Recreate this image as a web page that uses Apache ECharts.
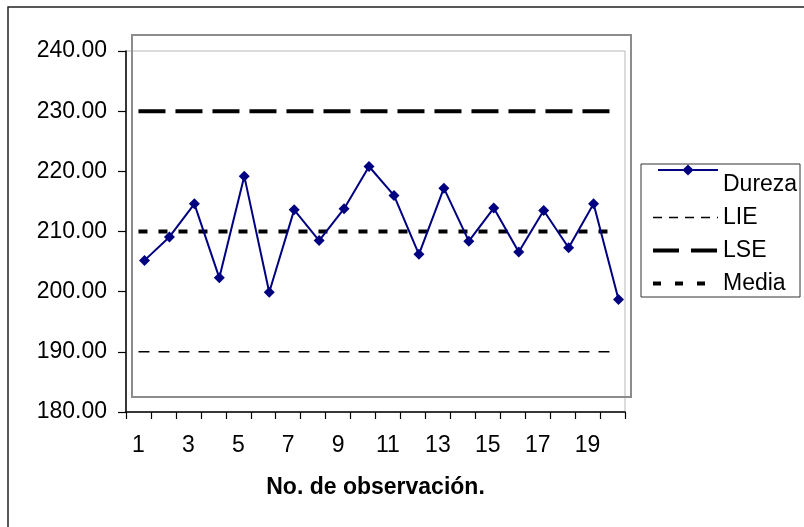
<!DOCTYPE html>
<html>
<head>
<meta charset="utf-8">
<script src="https://cdn.jsdelivr.net/npm/echarts@6/dist/echarts.min.js"></script>
<style>
html,body{margin:0;padding:0;background:#fff;}
#c{width:804px;height:527px;}
</style>
</head>
<body>
<div id="c"></div>
<script>
var categories = ['1','2','3','4','5','6','7','8','9','10','11','12','13','14','15','16','17','18','19','20'];
var dureza = [205.2, 209.1, 214.6, 202.3, 219.2, 199.9, 213.6, 208.5, 213.8, 220.8, 216.0, 206.2, 217.2, 208.4, 213.9, 206.6, 213.5, 207.3, 214.6, 198.7];
var lie   = [190,190,190,190,190,190,190,190,190,190,190,190,190,190,190,190,190,190,190,190];
var lse   = [230,230,230,230,230,230,230,230,230,230,230,230,230,230,230,230,230,230,230,230];
var media = [210,210,210,210,210,210,210,210,210,210,210,210,210,210,210,210,210,210,210,210];
var yMin = 180, yMax = 240, yStep = 10;
var xTitle = 'No. de observación.';

var FONT = "'Liberation Sans', Arial, sans-serif";
var chart = echarts.init(document.getElementById('c'), null, {renderer:'canvas'});
chart.setOption({
  animation: false,
  backgroundColor: '#ffffff',
  textStyle: {fontFamily: FONT},
  graphic: [
    {type:'rect', z:0, silent:true, shape:{x:8, y:7, width:810, height:540}, style:{fill:'none', stroke:'#222', lineWidth:1.5}},
    {type:'rect', z:0, silent:true, shape:{x:132, y:35, width:499, height:362}, style:{fill:'none', stroke:'#8c8c8c', lineWidth:2}},
    {type:'rect', z:0, silent:true, shape:{x:641, y:164, width:159, height:133}, style:{fill:'#fff', stroke:'#333', lineWidth:1}}
  ],
  grid: [
    {left:126, right:179, top:51, bottom:115, show:true, borderColor:'#b8b8b8', borderWidth:1, backgroundColor:'transparent'},
    {left:132, right:173, top:51, bottom:115, show:false}
  ],
  xAxis: [
    {type:'category', gridIndex:0, data:categories, boundaryGap:true,
     axisLine:{show:true, lineStyle:{color:'#000', width:1.5}},
     axisTick:{show:true, interval:0, length:7, inside:false, lineStyle:{color:'#000', width:1.2}},
     axisLabel:{interval:1, margin:22, fontSize:23, color:'#000', fontFamily:FONT},
     splitLine:{show:false},
     name: xTitle, nameLocation:'middle', nameGap:64,
     nameTextStyle:{fontSize:23, fontWeight:'bold', color:'#000', fontFamily:FONT}},
    {type:'category', gridIndex:1, data:categories, boundaryGap:true, show:false}
  ],
  yAxis: [
    {type:'value', gridIndex:0, min:yMin, max:yMax, interval:yStep,
     axisLine:{show:true, lineStyle:{color:'#000', width:1.5}},
     axisTick:{show:true, length:8, lineStyle:{color:'#000', width:1.2}},
     axisLabel:{margin:19, fontSize:23, color:'#000', fontFamily:FONT, formatter:function(v){return v.toFixed(2);}},
     splitLine:{show:false}},
    {type:'value', gridIndex:1, min:yMin, max:yMax, interval:yStep, show:false}
  ],
  legend: [
    {data:['Dureza'], orient:'vertical', left:652, top:139, itemWidth:60, itemHeight:14,
     formatter:function(n){return '{a|'+n+'}';},
     textStyle:{color:'#000', fontFamily:FONT, rich:{a:{fontSize:23, lineHeight:23, padding:[29,0,0,0], fontFamily:FONT, color:'#000'}}}},
    {data:[
       {name:'LIE', lineStyle:{type:[9,7], width:1.5, color:'#000'}},
       {name:'LSE', lineStyle:{type:[26,12], width:4, color:'#000'}},
       {name:'Media', lineStyle:{type:[8,14], width:4, color:'#000'}}
     ],
     orient:'vertical', left:646, top:201, itemWidth:65, itemHeight:14, itemGap:10,
     itemStyle:{opacity:0},
     textStyle:{fontSize:23, lineHeight:23, color:'#000', fontFamily:FONT}}
  ],
  series: [
    {name:'LIE', type:'line', xAxisIndex:0, yAxisIndex:0, data:lie, symbol:'none',
     itemStyle:{color:'#000'}, lineStyle:{color:'#000', width:1.5, type:[11,9]}, z:3},
    {name:'LSE', type:'line', xAxisIndex:0, yAxisIndex:0, data:lse, symbol:'none',
     itemStyle:{color:'#000'}, lineStyle:{color:'#000', width:4, type:[27,10]}, z:3},
    {name:'Media', type:'line', xAxisIndex:0, yAxisIndex:0, data:media, symbol:'none',
     itemStyle:{color:'#000'}, lineStyle:{color:'#000', width:4, type:[9,11]}, z:3},
    {name:'Dureza', type:'line', xAxisIndex:1, yAxisIndex:1, data:dureza, symbol:'diamond', symbolSize:11,
     lineStyle:{color:'#000080', width:2}, itemStyle:{color:'#000080'}, z:5}
  ]
});
</script>
</body>
</html>
